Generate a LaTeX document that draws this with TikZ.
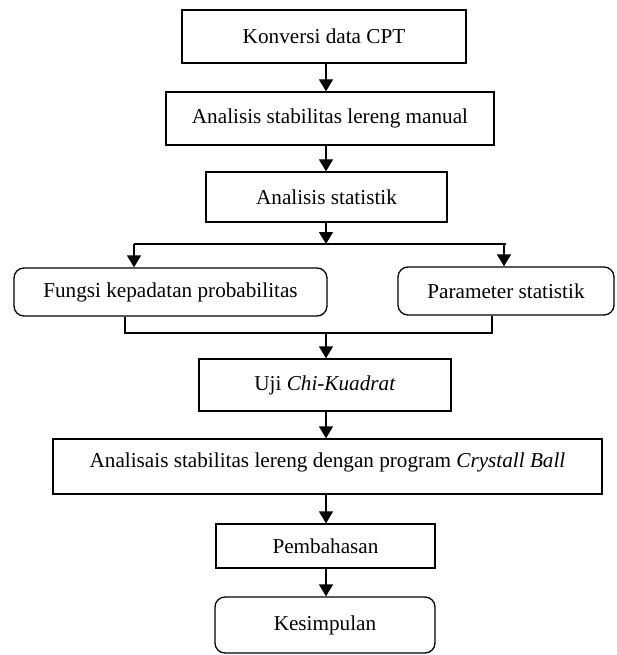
\documentclass[tikz,border=0pt]{standalone}
\usepackage{fontspec}
\setmainfont{Liberation Serif}
\usetikzlibrary{arrows.meta}
\begin{document}
\begin{tikzpicture}[x=1pt,y=-1pt,
  box/.style={draw=black, line width=1.3pt, inner sep=0pt, align=center,
    font=\fontsize{21.2}{25}\selectfont},
  rbox/.style={box, rounded corners=10pt},
  txt/.style={inner sep=0pt, font=\fontsize{21.2}{25}\selectfont},
  line/.style={draw=black, line width=1.3pt},
  arr/.style={line, -{Triangle[length=12pt,width=14pt]}}]
\useasboundingbox (0,0) rectangle (616,655);
\coordinate (axis) at (326,0);
\node[box, minimum width=284pt, minimum height=53pt] (b1) at (324,36.5) {Konversi data CPT};
\node[box, minimum width=328pt, minimum height=53pt] (b2) at (330,118.5) {Analisis stabilitas lereng manual};
\node[box, minimum width=241pt, minimum height=50pt] (b3) at (326.5,197) {Analisis statistik};
\node[rbox, minimum width=313pt, minimum height=48pt] (f) at (170.5,292) {Fungsi kepadatan probabilitas};
\node[rbox, minimum width=216pt, minimum height=48pt] (p) at (506,291) {Parameter statistik};
\node[box, minimum width=252pt, minimum height=52pt] (u) at (325,385) {Uji \textit{Chi-Kuadrat}};
\node[box, minimum width=549pt, minimum height=55pt] (c) at (327.5,466.5) {};
\node[txt] (ctext) at (327.5,462.5) {Analisais stabilitas lereng dengan program \textit{Crystall Ball}};
\node[box, minimum width=219pt, minimum height=44pt] (pm) at (325.5,546) {Pembahasan};
\node[rbox, minimum width=220pt, minimum height=56pt] (k) at (325,625) {Kesimpulan};
% main chain
\draw[arr] (b1.south -| axis) -- (b2.north -| axis);
\draw[arr] (b2.south -| axis) -- (b3.north -| axis);
% split
\coordinate (sl) at (134,244);
\coordinate (sr) at (506,244);
\coordinate (sm) at (326,244);
\draw[arr] (b3.south -| axis) -- (sm);
\draw[line] (sl) -- (sr);
\draw[arr] (sl) -- (sl |- f.north);
\draw[arr] ([xshift=-2pt]sr) -- ([xshift=-2pt]sr |- p.north);
% merge
\coordinate (ml) at (125,333);
\coordinate (mr) at (492,333);
\coordinate (mm) at (326,333);
\draw[line] (ml |- f.south) -- (ml) -- (mr) -- (mr |- p.south);
\draw[arr] (mm) -- (u.north -| axis);
\draw[arr] (u.south -| axis) -- (c.north -| axis);
\draw[arr] (c.south -| axis) -- (pm.north -| axis);
\draw[arr] (pm.south -| axis) -- (k.north -| axis);
\end{tikzpicture}
\end{document}
